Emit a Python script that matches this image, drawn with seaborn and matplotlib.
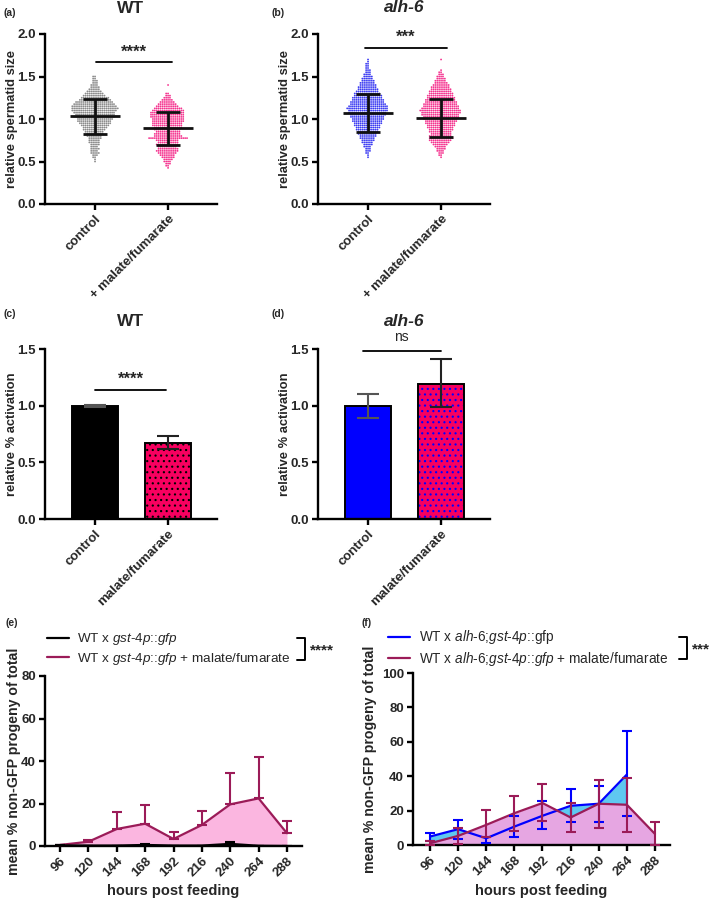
import numpy as np
import pandas as pd
import matplotlib.pyplot as plt
from matplotlib.lines import Line2D
import seaborn as sns

# ── Style ─────────────────────────────────────────────────────────────────────
sns.set_theme(style="ticks")
plt.rcParams["font.family"] = ["Liberation Sans", "DejaVu Sans"]
plt.rcParams["mathtext.fontset"] = "custom"
plt.rcParams["mathtext.it"] = "Liberation Sans:italic"
plt.rcParams["mathtext.rm"] = "Liberation Sans"
plt.rcParams["hatch.linewidth"] = 0.8

COLORS = {
    "grey":   "#8a8a8a",
    "pink":   "#f5338f",
    "blue":   "#0000ff",
    "dotblue": "#3b3bf2",
    "bar_pink": "#f7005f",
    "maroon": "#9b1b58",
    "fill_e": "#fbb6e0",
    "fill_blue": "#5fc8f0",
    "fill_pink": "#e6a6e2",
}

# ── Data ──────────────────────────────────────────────────────────────────────
# (a)/(b) spermatid size: swarm row levels and number of dots in each row
a_ctrl_rows = [1.500, 1.475, 1.450, 1.425, 1.400, 1.375, 1.350, 1.325, 1.300, 1.275,
               1.250, 1.225, 1.200, 1.175, 1.150, 1.125, 1.100, 1.075, 1.050, 1.025,
               1.000, 0.975, 0.950, 0.925, 0.900, 0.875, 0.850, 0.825, 0.800, 0.775,
               0.750, 0.725, 0.700, 0.675, 0.650, 0.625, 0.600, 0.575, 0.550, 0.525, 0.500]
a_ctrl_n = [2, 2, 3, 3, 4, 5, 6, 8, 10, 12,
            15, 17, 20, 22, 24, 25, 24, 22, 21, 22,
            19, 18, 17, 15, 13, 12, 10, 9, 8, 7,
            6, 6, 5, 4, 5, 4, 5, 3, 2, 1, 1]
a_mal_rows = [1.400, 1.300, 1.275, 1.250, 1.225, 1.200, 1.175, 1.150, 1.125, 1.100,
              1.075, 1.050, 1.025, 1.000, 0.975, 0.950, 0.925, 0.900, 0.875, 0.850,
              0.825, 0.800, 0.775, 0.750, 0.725, 0.700, 0.675, 0.650, 0.625, 0.600,
              0.575, 0.550, 0.525, 0.500, 0.475, 0.450, 0.425]
a_mal_n = [1, 2, 3, 4, 6, 8, 10, 12, 15, 17,
           18, 18, 18, 17, 17, 16, 16, 15, 14, 13,
           14, 15, 21, 12, 11, 12, 10, 11, 12, 10,
           8, 7, 5, 4, 3, 2, 1]
b_ctrl_rows = [1.700, 1.675, 1.650, 1.625, 1.600, 1.575, 1.550, 1.525, 1.500, 1.475,
               1.450, 1.425, 1.400, 1.375, 1.350, 1.325, 1.300, 1.275, 1.250, 1.225,
               1.200, 1.175, 1.150, 1.125, 1.100, 1.075, 1.050, 1.025, 1.000, 0.975,
               0.950, 0.925, 0.900, 0.875, 0.850, 0.825, 0.800, 0.775, 0.750, 0.725,
               0.700, 0.675, 0.650, 0.625, 0.600, 0.575, 0.550]
b_ctrl_n = [1, 1, 2, 2, 2, 3, 3, 4, 5, 6,
            7, 8, 9, 10, 11, 12, 14, 15, 16, 17,
            18, 19, 21, 22, 21, 20, 19, 18, 17, 16,
            15, 14, 13, 12, 11, 10, 9, 8, 7, 6,
            5, 4, 3, 3, 2, 1, 1]
b_mal_rows = [1.700, 1.575, 1.550, 1.525, 1.500, 1.475, 1.450, 1.425, 1.400, 1.375,
              1.350, 1.325, 1.300, 1.275, 1.250, 1.225, 1.200, 1.175, 1.150, 1.125,
              1.100, 1.075, 1.050, 1.025, 1.000, 0.975, 0.950, 0.925, 0.900, 0.875,
              0.850, 0.825, 0.800, 0.775, 0.750, 0.725, 0.700, 0.675, 0.650, 0.625,
              0.600, 0.575, 0.550]
b_mal_n = [1, 1, 2, 3, 4, 5, 6, 7, 9, 10,
           11, 12, 13, 14, 15, 16, 17, 18, 19, 20,
           22, 21, 20, 19, 18, 17, 16, 15, 14, 13,
           12, 11, 12, 13, 12, 10, 8, 6, 5, 4,
           3, 2, 1]

size_groups = ["control", "+ malate/fumarate"]
a_mean = [1.03, 0.90]
a_sd_lo = [0.82, 0.70]
a_sd_hi = [1.235, 1.086]
b_mean = [1.074, 1.01]
b_sd_lo = [0.85, 0.785]
b_sd_hi = [1.30, 1.235]

# (c)/(d) relative % activation
act_groups = ["control", "malate/fumarate"]
c_vals = [1.0, 0.67]
c_lo = [0.99, 0.62]
c_hi = [1.01, 0.73]
d_vals = [1.0, 1.19]
d_lo = [0.89, 0.985]
d_hi = [1.10, 1.41]

# (e)/(f) non-GFP progeny over time
hours = [96, 120, 144, 168, 192, 216, 240, 264, 288]
e_ctrl = [0.3, 0.2, 0.2, 0.5, 0.2, 0.2, 1.0, 0.1, 0.0]
e_ctrl_hi = [0.6, 0.2, 0.2, 0.9, 0.2, 0.2, 2.0, 0.1, 0.0]
e_mal = [0.5, 2.0, 8.0, 10.5, 3.3, 9.9, 19.6, 22.4, 6.0]
e_mal_hi = [0.5, 2.8, 16.1, 19.4, 6.5, 16.5, 34.2, 42.0, 11.6]

f_ctrl = [4.9, 9.2, 3.9, 10.7, 17.0, 22.8, 24.0, 41.0]
f_ctrl_lo = [2.5, 3.3, 1.0, 4.5, 9.2, 13.1, 13.1, 16.6]
f_ctrl_hi = [6.8, 14.6, 4.9, 17.0, 25.4, 32.8, 34.5, 66.3]
f_mal = [1.0, 5.3, 11.7, 18.5, 24.4, 16.0, 24.0, 23.4, 6.4]
f_mal_lo = [0.0, 0.6, 4.5, 8.4, 14.2, 7.4, 9.8, 7.8, 0.0]
f_mal_hi = [2.5, 9.8, 20.1, 28.7, 35.5, 24.4, 38.0, 39.0, 13.3]

W, H = 709, 900
fig = plt.figure(figsize=(W / 100, H / 100), dpi=100)


def px_axes(x0, y_top, x1, y_bot):
    return fig.add_axes([x0 / W, 1 - y_bot / H, (x1 - x0) / W, (y_bot - y_top) / H])


def style_axes(ax, labelsize=9.5):
    sns.despine(ax=ax)
    for s in ("left", "bottom"):
        ax.spines[s].set_linewidth(1.7)
        ax.spines[s].set_color("black")
    ax.tick_params(axis="both", length=4.5, width=1.7, color="black",
                   labelsize=labelsize, pad=2)
    for lab in ax.get_xticklabels() + ax.get_yticklabels():
        lab.set_fontweight("bold")


def rotate_xticks(ax):
    for lab in ax.get_xticklabels():
        lab.set_rotation(45)
        lab.set_ha("right")
        lab.set_rotation_mode("anchor")


def sig_bar(ax, x0, x1, y, text, ty, weight="bold", size=12):
    ax.plot([x0, x1], [y, y], color="black", lw=1.3, clip_on=False)
    ax.text((x0 + x1) / 2, ty, text, ha="center", va="center",
            fontsize=size, fontweight=weight, clip_on=False)


def title(ax, text, y, italic=False):
    ax.text(0.5, y, text, transform=ax.transAxes, ha="center", va="center",
            fontsize=12.5, fontweight="bold", style="italic" if italic else "normal")


def panel_label(text, x, y):
    fig.text(x / W, 1 - y / H, text, fontsize=7.5, fontweight="bold", ha="left", va="center")


def ylabel_at(ax, text, x_px, x0_px, width_px, size):
    # x_px: right edge of the rotated label, in figure pixels
    ax.set_ylabel(text, fontsize=size, fontweight="bold")
    ax.yaxis.set_label_coords((x_px - x0_px) / width_px, 0.5)


# ── (a)/(b) swarm panels ──────────────────────────────────────────────────────
def swarm_panel(ax, rows_list, n_list, colors, mean, lo, hi):
    frames = []
    for g, rows, n in zip(size_groups, rows_list, n_list):
        frames.append(pd.DataFrame({"group": g, "size": np.repeat(rows, n)}))
    df = pd.concat(frames, ignore_index=True)
    sns.swarmplot(data=df, x="group", y="size", hue="group", order=size_groups,
                  palette=dict(zip(size_groups, colors)), size=1.3, linewidth=0,
                  legend=False, ax=ax, zorder=2)
    pos = np.arange(len(size_groups))
    ax.hlines(mean, pos - 0.34, pos + 0.34, color="#111111", lw=2.0, zorder=3)
    ax.hlines(lo, pos - 0.16, pos + 0.16, color="#111111", lw=2.0, zorder=3)
    ax.hlines(hi, pos - 0.16, pos + 0.16, color="#111111", lw=2.0, zorder=3)
    ax.vlines(pos, lo, hi, color="#111111", lw=2.0, zorder=3)
    ax.set_xlim(-0.685, 1.67)
    ax.set_ylim(0, 2.0)
    ax.set_yticks([0, 0.5, 1.0, 1.5, 2.0])
    ax.set_yticklabels(["0.0", "0.5", "1.0", "1.5", "2.0"])
    ax.set_xlabel("")
    style_axes(ax)
    rotate_xticks(ax)


ax_a = px_axes(45, 34, 217, 204)
swarm_panel(ax_a, [a_ctrl_rows, a_mal_rows], [a_ctrl_n, a_mal_n],
            [COLORS["grey"], COLORS["pink"]], a_mean, a_sd_lo, a_sd_hi)
ylabel_at(ax_a, "relative spermatid size", 18, 45, 172, 9.3)
sig_bar(ax_a, 0.01, 1.05, 1.67, "****", 1.79)
title(ax_a, "WT", 1.15)
panel_label("(a)", 4, 13)

ax_b = px_axes(318, 34, 490, 204)
swarm_panel(ax_b, [b_ctrl_rows, b_mal_rows], [b_ctrl_n, b_mal_n],
            [COLORS["dotblue"], COLORS["pink"]], b_mean, b_sd_lo, b_sd_hi)
ylabel_at(ax_b, "relative spermatid size", 291, 318, 172, 9.3)
sig_bar(ax_b, -0.04, 1.08, 1.835, "***", 1.96)
title(ax_b, "alh-6", 1.155, italic=True)
panel_label("(b)", 272, 13)


# ── (c)/(d) bar panels ────────────────────────────────────────────────────────
def bar_panel(ax, vals, lo, hi, colors, dot_color):
    df = pd.DataFrame({"group": act_groups, "val": vals})
    sns.barplot(data=df, x="group", y="val", hue="group", order=act_groups,
                palette=dict(zip(act_groups, colors)), errorbar=None, width=0.63,
                legend=False, saturation=1, ax=ax)
    patches = ax.patches
    patches[0].set_edgecolor("black")
    patches[0].set_linewidth(1.4)
    patches[1].set_edgecolor(dot_color)
    patches[1].set_hatch("...")
    patches[1].set_linewidth(0)
    ax.bar([1], [vals[1]], width=0.63, fill=False, edgecolor="black", lw=1.4, zorder=3)
    pos = np.arange(len(act_groups))
    yerr = [np.array(vals) - np.array(lo), np.array(hi) - np.array(vals)]
    ecols = ["#555555", "#222222"]
    for i in pos:
        ax.errorbar(i, vals[i], yerr=[[yerr[0][i]], [yerr[1][i]]], fmt="none",
                    ecolor=ecols[i], elinewidth=1.5, capsize=8, capthick=1.5, zorder=4)
    ax.set_xlim(-0.68, 1.675)
    ax.set_ylim(0, 1.5)
    ax.set_yticks([0, 0.5, 1.0, 1.5])
    ax.set_yticklabels(["0.0", "0.5", "1.0", "1.5"])
    ax.set_xlabel("")
    style_axes(ax)
    rotate_xticks(ax)


ax_c = px_axes(45, 349, 217, 519)
bar_panel(ax_c, c_vals, c_lo, c_hi, ["black", COLORS["bar_pink"]], "black")
ylabel_at(ax_c, "relative % activation", 18, 45, 172, 9.3)
sig_bar(ax_c, 0.0, 0.98, 1.137, "****", 1.23)
title(ax_c, "WT", 1.16)
panel_label("(c)", 4, 314)

ax_d = px_axes(318, 349, 490, 519)
bar_panel(ax_d, d_vals, d_lo, d_hi, [COLORS["blue"], COLORS["bar_pink"]], COLORS["blue"])
ylabel_at(ax_d, "relative % activation", 291, 318, 172, 9.3)
sig_bar(ax_d, -0.07, 1.0, 1.486, "ns", 1.61, weight="normal", size=10)
title(ax_d, "alh-6", 1.16, italic=True)
panel_label("(d)", 272, 314)


# ── (e)/(f) time course panels ────────────────────────────────────────────────
def line_axes(ax, ymax, step):
    ax.set_ylim(0, ymax)
    ax.set_yticks(np.arange(0, ymax + 1, step))
    ax.set_xticks(hours)
    ax.set_xticklabels([str(h) for h in hours])
    ax.set_xlabel("hours post feeding", fontsize=10.5, fontweight="bold")
    ax.xaxis.set_label_coords(0.5, -0.225)
    style_axes(ax, labelsize=9.5)
    rotate_xticks(ax)


def legend_block(ax, labels, colors, x, y, bx, stars, size=9.5):
    handles = [Line2D([], [], color=c, lw=1.6) for c in colors]
    ax.legend(handles, labels, loc="center left", bbox_to_anchor=(x / W, 1 - y / H),
              bbox_transform=fig.transFigure, frameon=False, borderpad=0,
              borderaxespad=0, handlelength=1.65, handletextpad=0.6,
              labelspacing=0.25, prop={"size": size, "weight": "normal"})
    # bracket for the significance call
    x0, x1 = (bx - 8) / W, bx / W
    yt, yb = 1 - (y - 11) / H, 1 - (y + 11) / H
    fig.add_artist(Line2D([x0, x1, x1, x0], [yt, yt, yb, yb], color="black", lw=1.4))
    fig.text((bx + 5) / W, 1 - (y + 1) / H, stars, fontsize=11, fontweight="bold",
             ha="left", va="center")


ax_e = px_axes(45, 676, 302, 846)
ax_e.fill_between(hours, e_mal, color=COLORS["fill_e"], lw=0, zorder=1)
ax_e.fill_between(hours, e_ctrl, color="black", lw=0, zorder=1)
sns.lineplot(x=hours, y=e_mal, color=COLORS["maroon"], lw=1.6, ax=ax_e, zorder=3)
sns.lineplot(x=hours, y=e_ctrl, color="black", lw=1.6, ax=ax_e, zorder=3)
ax_e.errorbar(hours, e_mal, yerr=[np.zeros(len(hours)), np.array(e_mal_hi) - np.array(e_mal)],
              fmt="none", ecolor=COLORS["maroon"], elinewidth=1.5, capsize=3.5, capthick=1.5, zorder=4)
ax_e.errorbar(hours, e_ctrl, yerr=[np.zeros(len(hours)), np.array(e_ctrl_hi) - np.array(e_ctrl)],
              fmt="none", ecolor="black", elinewidth=1.5, capsize=3.5, capthick=1.5, zorder=4)
ax_e.set_xlim(83.3, 300.7)
line_axes(ax_e, 80, 20)
ylabel_at(ax_e, "mean % non-GFP progeny of total", 21, 45, 257, 10.2)
legend_block(ax_e,
             [r"WT x $\mathit{gst}$-$\mathit{4p}$::$\mathit{gfp}$",
              r"WT x $\mathit{gst}$-$\mathit{4p}$::$\mathit{gfp}$ + malate/fumarate"],
             ["black", COLORS["maroon"]], 47, 649, 305, "****", size=9.7)
panel_label("(e)", 5, 623)

ax_f = px_axes(413, 673, 670, 845)
hours_ctrl = hours[:len(f_ctrl)]
ax_f.fill_between(hours_ctrl, f_ctrl, color=COLORS["fill_blue"], lw=0, zorder=1)
ax_f.fill_between(hours, f_mal, color=COLORS["fill_pink"], lw=0, zorder=2)
sns.lineplot(x=hours_ctrl, y=f_ctrl, color=COLORS["blue"], lw=1.6, ax=ax_f, zorder=3)
sns.lineplot(x=hours, y=f_mal, color=COLORS["maroon"], lw=1.6, ax=ax_f, zorder=3)
ax_f.errorbar(hours_ctrl, f_ctrl,
              yerr=[np.array(f_ctrl) - np.array(f_ctrl_lo), np.array(f_ctrl_hi) - np.array(f_ctrl)],
              fmt="none", ecolor=COLORS["blue"], elinewidth=1.5, capsize=3.5, capthick=1.5, zorder=4)
ax_f.errorbar(hours, f_mal,
              yerr=[np.array(f_mal) - np.array(f_mal_lo), np.array(f_mal_hi) - np.array(f_mal)],
              fmt="none", ecolor=COLORS["maroon"], elinewidth=1.5, capsize=3.5, capthick=1.5, zorder=4)
ax_f.set_xlim(81.5, 300.8)
line_axes(ax_f, 100, 20)
ylabel_at(ax_f, "mean % non-GFP progeny of total", 377, 413, 257, 10.2)
legend_block(ax_f,
             [r"WT x $\mathit{alh}$-$\mathit{6}$;$\mathit{gst}$-$\mathit{4p}$::gfp",
              r"WT x $\mathit{alh}$-$\mathit{6}$;$\mathit{gst}$-$\mathit{4p}$::$\mathit{gfp}$ + malate/fumarate"],
             [COLORS["blue"], COLORS["maroon"]], 388, 648, 687, "***", size=9.8)
panel_label("(f)", 361, 623)

fig.savefig("out.png", dpi=100)
